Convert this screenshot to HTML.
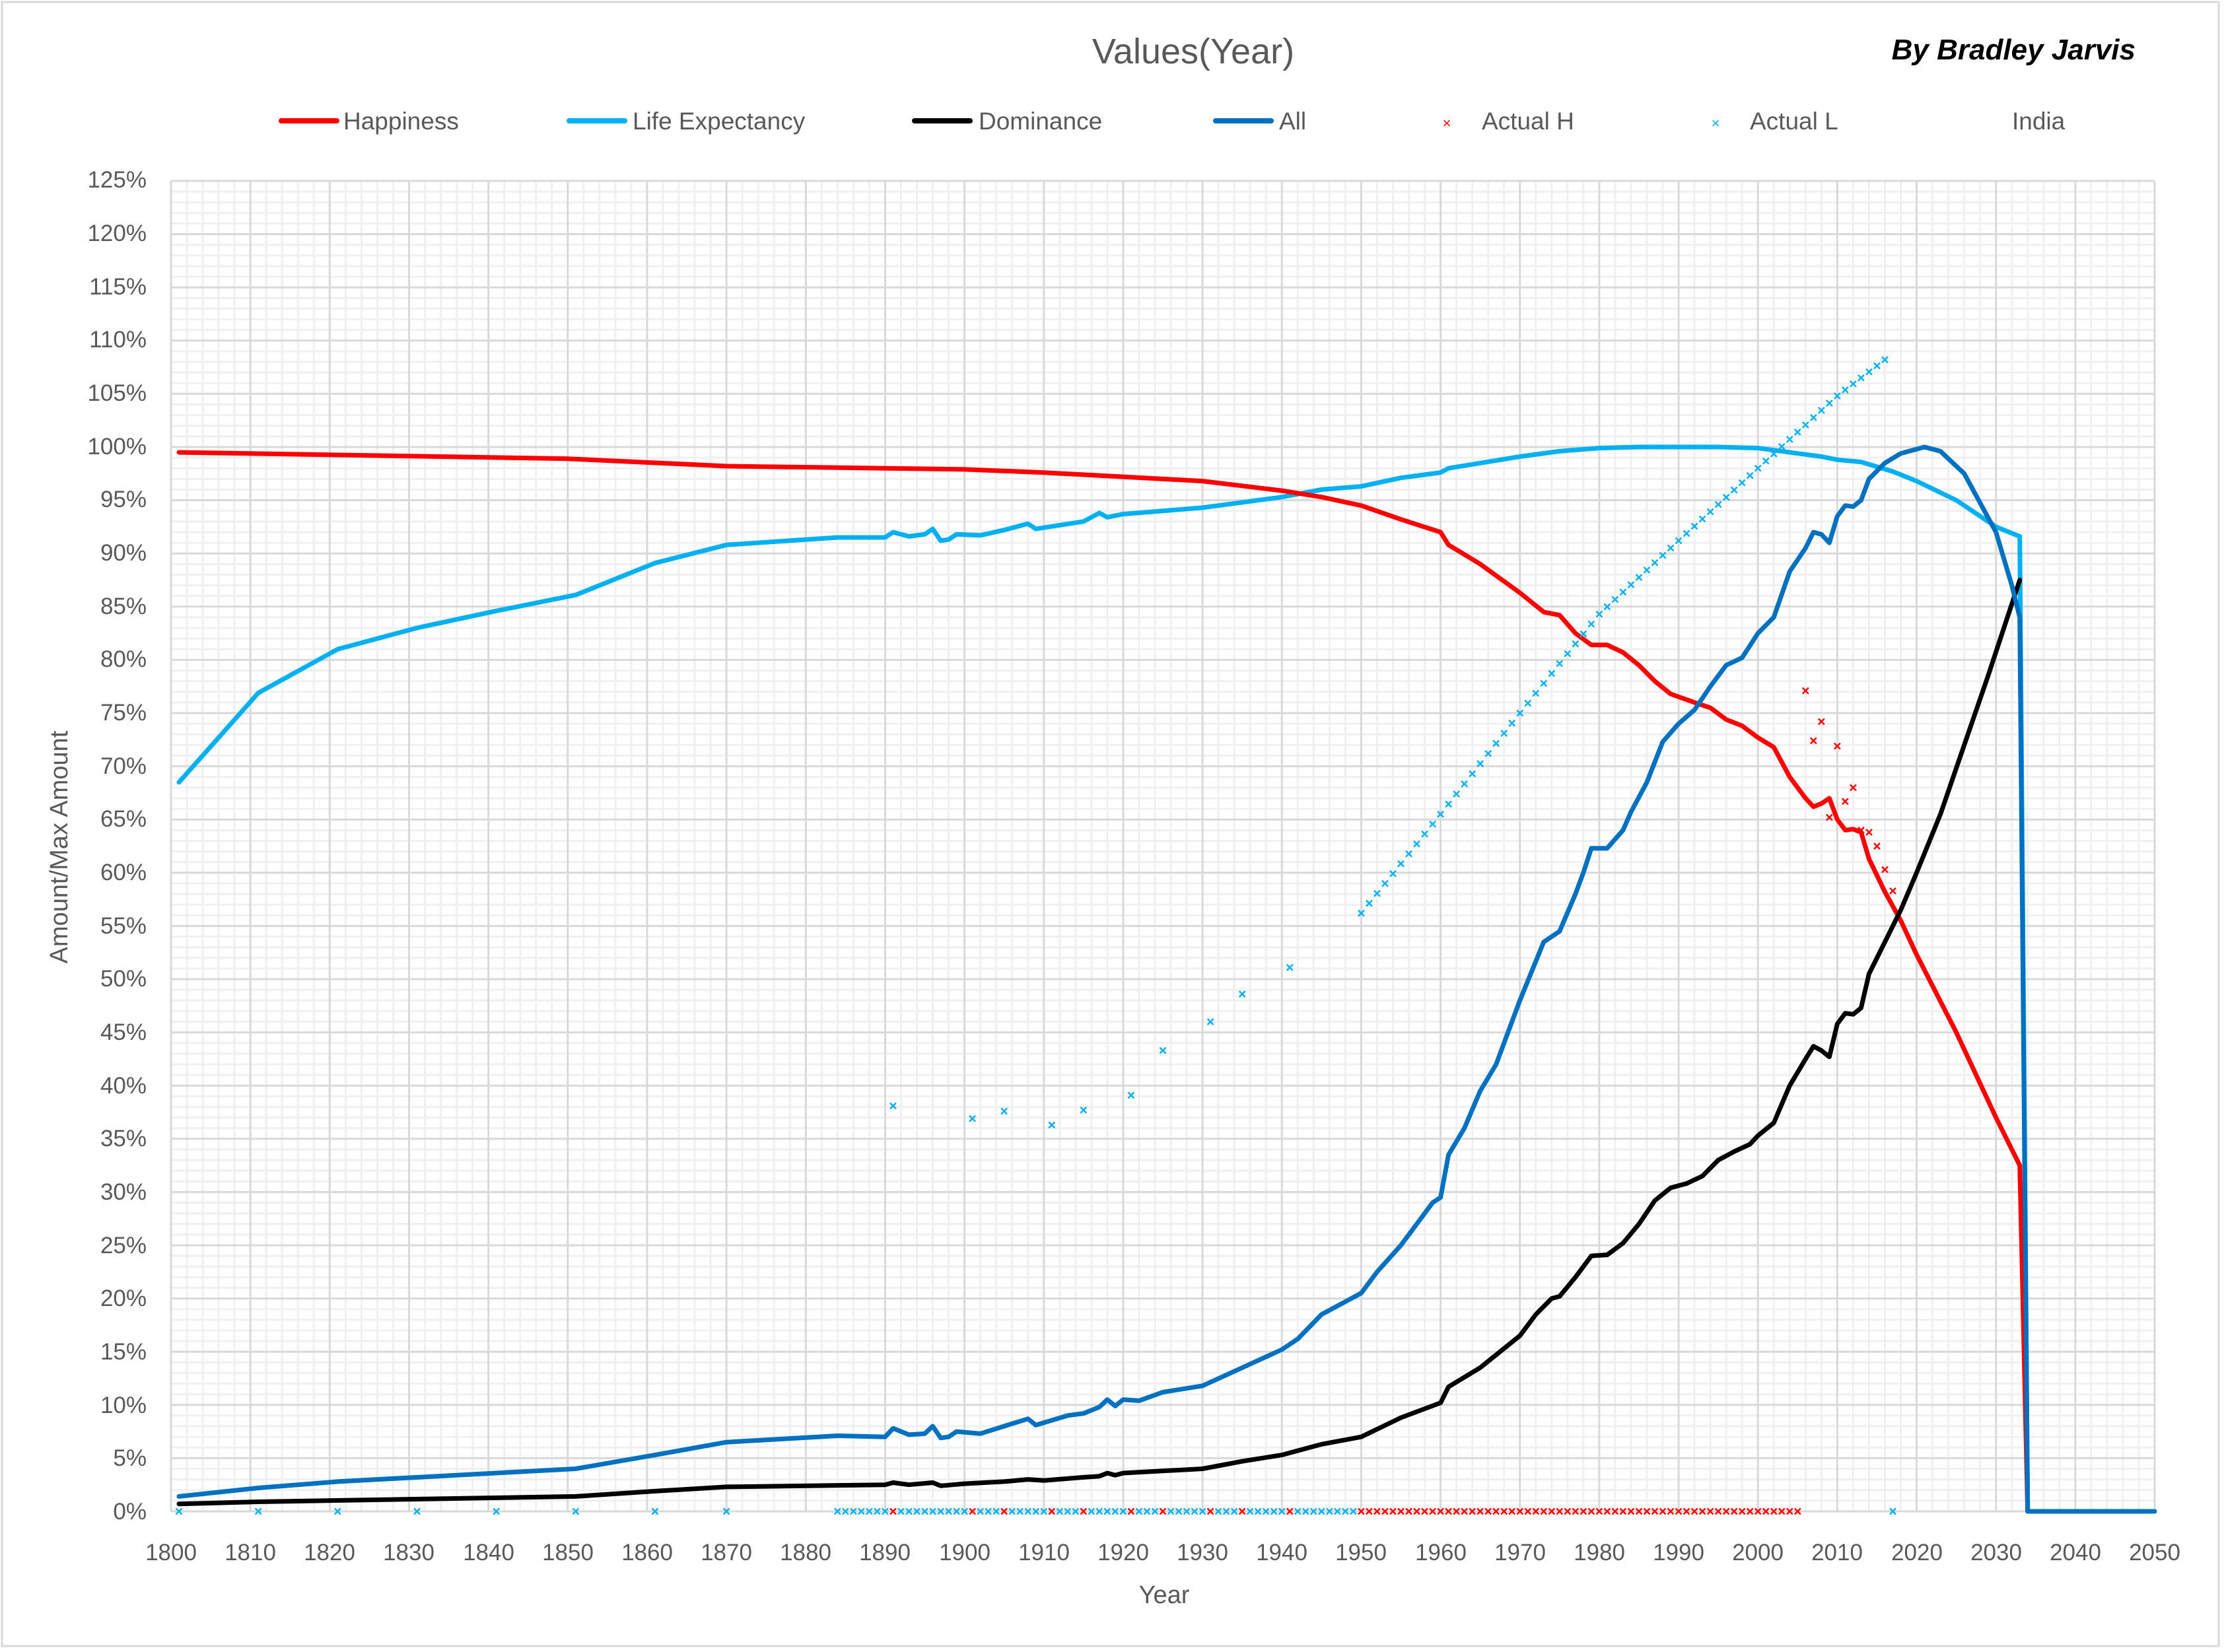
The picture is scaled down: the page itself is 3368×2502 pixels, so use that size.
<!DOCTYPE html>
<html><head><meta charset="utf-8"><style>
html,body{margin:0;padding:0;background:#fff;}
svg{display:block;font-family:"Liberation Sans",Arial,sans-serif;}
</style></head><body>
<svg id="s" width="3368" height="2502" viewBox="0 0 3368 2502" xmlns="http://www.w3.org/2000/svg">
<rect x="3" y="3" width="3357" height="2490" fill="#fff" stroke="#d9d9d9" stroke-width="3"/>
<g id="grid"></g>
<text x="1807" y="96" font-size="54" fill="#595959" text-anchor="middle">Values(Year)</text>
<text x="3234" y="90" font-size="44" fill="#000" font-weight="bold" font-style="italic" text-anchor="end">By Bradley Jarvis</text>
<g font-size="37" fill="#595959">
<line x1="426" y1="183" x2="510" y2="183" stroke="#ff0000" stroke-width="8" stroke-linecap="round"/>
<text x="520" y="196">Happiness</text>
<line x1="862" y1="183" x2="946" y2="183" stroke="#00b0f0" stroke-width="8" stroke-linecap="round"/>
<text x="958" y="196">Life Expectancy</text>
<line x1="1385" y1="183" x2="1469" y2="183" stroke="#000" stroke-width="8" stroke-linecap="round"/>
<text x="1482" y="196">Dominance</text>
<line x1="1841" y1="183" x2="1925" y2="183" stroke="#0070c0" stroke-width="8" stroke-linecap="round"/>
<text x="1937" y="196">All</text>
<text x="2191" y="194" font-size="22" fill="#ff0000" text-anchor="middle">×</text>
<text x="2244" y="196">Actual H</text>
<text x="2598" y="194" font-size="22" fill="#00b0f0" text-anchor="middle">×</text>
<text x="2650" y="196">Actual L</text>
<text x="3047" y="196">India</text>
</g>
<g font-size="35" fill="#595959" text-anchor="end">
<text x="222" y="2301">0%</text><text x="222" y="2220">5%</text><text x="222" y="2140">10%</text><text x="222" y="2059">15%</text><text x="222" y="1978">20%</text><text x="222" y="1898">25%</text><text x="222" y="1817">30%</text><text x="222" y="1736">35%</text><text x="222" y="1656">40%</text><text x="222" y="1575">45%</text><text x="222" y="1494">50%</text><text x="222" y="1414">55%</text><text x="222" y="1333">60%</text><text x="222" y="1252">65%</text><text x="222" y="1172">70%</text><text x="222" y="1091">75%</text><text x="222" y="1010">80%</text><text x="222" y="930">85%</text><text x="222" y="849">90%</text><text x="222" y="768">95%</text><text x="222" y="688">100%</text><text x="222" y="607">105%</text><text x="222" y="526">110%</text><text x="222" y="446">115%</text><text x="222" y="365">120%</text><text x="222" y="284">125%</text>
</g>
<g font-size="35" fill="#595959" text-anchor="middle">
<text x="259" y="2363">1800</text><text x="379" y="2363">1810</text><text x="499" y="2363">1820</text><text x="619" y="2363">1830</text><text x="740" y="2363">1840</text><text x="860" y="2363">1850</text><text x="980" y="2363">1860</text><text x="1100" y="2363">1870</text><text x="1220" y="2363">1880</text><text x="1340" y="2363">1890</text><text x="1461" y="2363">1900</text><text x="1581" y="2363">1910</text><text x="1701" y="2363">1920</text><text x="1821" y="2363">1930</text><text x="1941" y="2363">1940</text><text x="2061" y="2363">1950</text><text x="2182" y="2363">1960</text><text x="2302" y="2363">1970</text><text x="2422" y="2363">1980</text><text x="2542" y="2363">1990</text><text x="2662" y="2363">2000</text><text x="2782" y="2363">2010</text><text x="2903" y="2363">2020</text><text x="3023" y="2363">2030</text><text x="3143" y="2363">2040</text><text x="3263" y="2363">2050</text>
</g>
<text x="1763" y="2428" font-size="38" fill="#595959" text-anchor="middle">Year</text>
<text transform="translate(102,1283) rotate(-90)" font-size="38" fill="#595959" text-anchor="middle">Amount/Max Amount</text>
<g id="data"></g>
</svg>
<script>
var NS="http://www.w3.org/2000/svg";
function X(y){return 259+(y-1800)*12.016;}
function Y(p){return 2289-p*16.12;}
function el(n,a,p){var e=document.createElementNS(NS,n);for(var k in a)e.setAttribute(k,a[k]);p.appendChild(e);return e;}
var g=document.getElementById("grid"),d=document.getElementById("data");
for(var i=0;i<=125;i++){if(i%5)el("line",{x1:259,x2:3263,y1:Y(i),y2:Y(i),stroke:"#f0f0f0","stroke-width":3},g);}
for(var yr=1800;yr<=2050;yr+=2){if(yr%10)el("line",{x1:X(yr),x2:X(yr),y1:Y(0),y2:Y(125),stroke:"#f0f0f0","stroke-width":3},g);}
for(var i=0;i<=125;i+=5)el("line",{x1:259,x2:3263,y1:Y(i),y2:Y(i),stroke:"#d9d9d9","stroke-width":3},g);
for(var yr=1800;yr<=2050;yr+=10)el("line",{x1:X(yr),x2:X(yr),y1:Y(0),y2:Y(125),stroke:"#d9d9d9","stroke-width":3},g);
function line(pts,c){var s="";for(var i=0;i<pts.length;i+=2)s+=(i?"L":"M")+X(pts[i]).toFixed(1)+" "+Y(pts[i+1]).toFixed(1);el("path",{d:s,fill:"none",stroke:c,"stroke-width":7,"stroke-linejoin":"round","stroke-linecap":"round"},d);}
function mk(yr,p,c){var x=X(yr),y=Y(p),r=4.5;el("path",{d:"M"+(x-r)+" "+(y-r)+"L"+(x+r)+" "+(y+r)+"M"+(x+r)+" "+(y-r)+"L"+(x-r)+" "+(y+r),stroke:c,"stroke-width":2.5},d);}
var LE=[1801,68.5,1811,76.9,1821,81,1831,83,1841,84.6,1851,86.1,1861,89.1,1870,90.8,1884,91.5,1890,91.5,1891,92.0,1893,91.6,1895,91.8,1896,92.3,1897,91.2,1898,91.3,1899,91.8,1902,91.7,1905,92.2,1908,92.8,1909,92.3,1915,93,1917,93.8,1918,93.4,1920,93.7,1925,94,1930,94.3,1940,95.3,1945,96.0,1950,96.3,1955,97.1,1960,97.6,1961,98,1970,99.1,1975,99.6,1980,99.9,1985,100,1995,100,2000,99.9,2005,99.4,2008,99.1,2010,98.8,2013,98.6,2017,97.7,2020,96.8,2025,95,2030,92.5,2033,91.6,2034,0];
var AL=[1801,1.4,1811,2.2,1821,2.8,1851,4.0,1861,5.3,1870,6.5,1884,7.1,1890,7.0,1891,7.8,1893,7.2,1895,7.3,1896,8.0,1897,6.9,1898,7.0,1899,7.5,1902,7.3,1905,8.0,1908,8.7,1909,8.1,1913,9.0,1915,9.2,1917,9.8,1918,10.5,1919,9.9,1920,10.5,1922,10.4,1925,11.2,1930,11.8,1935,13.5,1940,15.2,1942,16.2,1945,18.5,1950,20.5,1952,22.5,1955,25,1957,27,1959,29,1960,29.5,1961,33.5,1963,36,1965,39.5,1967,42,1970,48,1973,53.5,1975,54.5,1977,58,1978,60,1979,62.3,1981,62.3,1983,64,1984,65.7,1986,68.5,1988,72.3,1990,74,1992,75.3,1994,77.5,1996,79.5,1998,80.2,2000,82.5,2002,84,2004,88.3,2006,90.5,2007,92,2008,91.8,2009,91,2010,93.5,2011,94.5,2012,94.4,2013,95,2014,97,2016,98.5,2018,99.4,2021,100,2023,99.6,2026,97.5,2030,92,2032,87,2033,84,2034,0,2050,0];
var DO=[1801,0.7,1811,0.9,1851,1.4,1861,1.9,1870,2.3,1890,2.5,1891,2.7,1893,2.5,1896,2.7,1897,2.4,1900,2.6,1905,2.8,1908,3.0,1910,2.9,1915,3.2,1917,3.3,1918,3.6,1919,3.4,1920,3.6,1930,4.0,1935,4.7,1940,5.3,1945,6.3,1950,7.0,1955,8.8,1960,10.2,1961,11.7,1965,13.5,1970,16.5,1972,18.5,1974,20.0,1975,20.2,1977,22,1979,24,1981,24.1,1983,25.2,1985,27.0,1987,29.2,1989,30.4,1991,30.8,1993,31.5,1995,33.0,1997,33.8,1999,34.5,2000,35.3,2002,36.5,2004,40,2006,42.5,2007,43.7,2008,43.3,2009,42.7,2010,45.8,2011,46.8,2012,46.7,2013,47.3,2014,50.5,2016,53.5,2018,56.5,2020,60,2023,65.5,2026,72,2029,78.5,2031,83,2033,87.5];
var HA=[1801,99.5,1850,98.9,1870,98.2,1890,98.0,1900,97.9,1910,97.6,1920,97.2,1930,96.8,1940,95.9,1945,95.3,1950,94.5,1955,93.2,1960,92,1961,90.8,1965,89,1970,86.3,1973,84.5,1975,84.2,1977,82.5,1979,81.4,1981,81.4,1983,80.7,1985,79.5,1987,78,1989,76.8,1992,76.0,1994,75.5,1996,74.4,1998,73.8,2000,72.7,2002,71.8,2004,69,2006,67,2007,66.2,2008,66.5,2009,67,2010,65,2011,64,2012,64.1,2013,63.8,2014,61.3,2016,58.2,2018,55.5,2020,52.3,2025,45,2030,37,2033,32.5,2034,0];
line(LE,"#00b0f0");line(HA,"#ff0000");line(DO,"#000000");line(AL,"#0070c0");
var LB="#00b0f0",RD="#ff0000";
[1801,1811,1821,1831,1841,1851,1861,1870].forEach(function(y){mk(y,0,LB);});
var redZ={1891:1,1901:1,1905:1,1911:1,1915:1,1921:1,1925:1,1931:1,1935:1,1941:1};
for(var y=1884;y<1950;y++)mk(y,0,redZ[y]?RD:LB);
for(var y=1950;y<=2005;y++)mk(y,0,RD);
mk(2017,0,LB);
[[1891,38.1],[1901,36.9],[1905,37.6],[1911,36.3],[1915,37.7],[1921,39.1],[1925,43.3],[1931,46],[1935,48.6],[1941,51.1]].forEach(function(a){mk(a[0],a[1],LB);});
var K=[1950,56.2,1960,65.5,1970,75,1980,84.3,1990,91.2,2000,98,2010,104.8,2016,108.2];
for(var y=1950;y<=2016;y++){for(var i=0;i<K.length-2;i+=2){if(y>=K[i]&&y<=K[i+2]){var p=K[i+1]+(K[i+3]-K[i+1])*(y-K[i])/(K[i+2]-K[i]);mk(y,p,LB);break;}}}
[[2006,77.1],[2007,72.4],[2008,74.2],[2009,65.2],[2010,71.9],[2011,66.7],[2012,68],[2013,64],[2014,63.8],[2015,62.5],[2016,60.3],[2017,58.3]].forEach(function(a){mk(a[0],a[1],RD);});
</script>
</body></html>
